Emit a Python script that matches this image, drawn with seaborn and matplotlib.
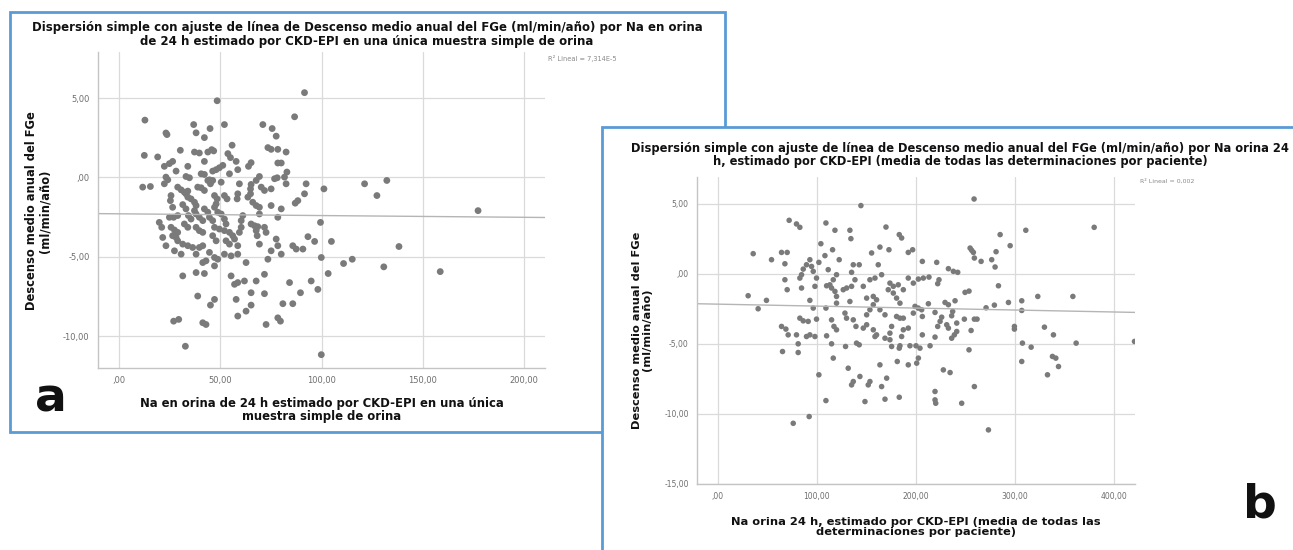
import numpy as np
import pandas as pd
import matplotlib
matplotlib.use('Agg')
import matplotlib.pyplot as plt
from matplotlib.patches import Rectangle
from matplotlib.ticker import FuncFormatter
import seaborn as sns

# ------------------------------------------------------------
# Data
# ------------------------------------------------------------
# Panel a: Na urine 24 h (single spot sample) vs annual eGFR decline
na_a = [91.6, 48.4, 12.7, 86.7, 36.8, 52.0, 44.9, 71.0, 75.6, 23.1, 23.6, 38.0, 42.1, 77.6, 55.8,
        30.2, 37.2, 39.6, 43.8, 45.7, 46.7, 73.5, 75.1, 78.4, 82.5, 12.4, 19.0, 53.7, 55.0, 26.4,
        24.8, 22.3, 42.1, 57.8, 65.2, 63.9, 78.4, 80.1, 33.9, 51.2, 49.5, 47.9, 46.2, 28.1, 42.1,
        54.5, 58.6, 82.9, 81.7, 23.1, 24.0, 22.3, 33.0, 34.7, 40.5, 44.6, 46.2, 69.3, 67.7, 76.8,
        78.1, 92.4, 101.2, 11.6, 15.4, 28.9, 30.6, 32.2, 33.9, 38.8, 40.5, 42.1, 43.8, 45.1, 50.4,
        59.4, 65.2, 64.9, 64.9, 70.2, 71.8, 75.1, 82.5, 91.6, 88.3, 87.0, 25.6, 25.3, 33.0, 33.9,
        35.5, 37.2, 47.1, 48.4, 47.9, 52.0, 53.3, 58.6, 58.3, 63.6, 66.0, 67.7, 69.3, 75.1, 80.1,
        26.4, 31.4, 33.0, 38.0, 37.2, 38.0, 42.1, 43.8, 47.1, 48.7, 50.4, 24.8, 26.9, 28.9, 34.2,
        35.5, 39.6, 41.3, 44.6, 46.2, 52.0, 52.8, 61.1, 60.3, 65.2, 66.9, 68.5, 69.3, 71.8, 78.4,
        19.8, 21.0, 25.6, 27.3, 28.9, 32.2, 33.9, 38.0, 39.6, 41.3, 47.1, 49.5, 52.0, 54.5, 56.1,
        60.3, 59.4, 67.7, 68.2, 72.6, 99.5, 21.5, 23.1, 26.4, 28.1, 28.9, 31.4, 33.9, 36.3, 39.6,
        41.3, 46.2, 47.9, 52.8, 54.5, 57.0, 58.6, 69.3, 77.6, 78.4, 85.8, 87.5, 90.8, 93.3, 96.6,
        27.3, 30.6, 38.0, 44.6, 47.1, 48.7, 52.0, 55.3, 58.6, 75.1, 80.1, 99.9, 42.9, 41.3, 47.1,
        62.7, 73.5, 31.4, 38.0, 42.1, 55.3, 71.8, 57.0, 58.6, 61.9, 67.7, 84.2, 94.9, 65.2, 71.8,
        89.6, 98.2, 38.8, 47.1, 45.1, 57.8, 65.2, 62.7, 80.9, 85.8, 58.6, 78.4, 79.7, 26.9, 29.4,
        41.3, 42.9, 72.6, 32.7, 99.9, 121.3, 132.3, 127.4, 177.4, 104.9, 138.3, 110.9, 115.2, 103.3,
        130.8, 158.7]
fge_a = [5.34, 4.83, 3.61, 3.82, 3.33, 3.33, 3.08, 3.33, 3.08, 2.80, 2.70, 2.81, 2.51, 2.60, 2.03,
         1.71, 1.60, 1.54, 1.60, 1.75, 1.67, 1.88, 1.77, 1.77, 1.60, 1.39, 1.29, 1.50, 1.25, 1.01,
         0.87, 0.70, 1.01, 1.01, 0.93, 0.70, 0.91, 0.91, 0.70, 0.76, 0.61, 0.49, 0.40, 0.40, 0.19,
         0.23, 0.49, 0.34, 0.02, 0.02, -0.15, -0.40, 0.06, -0.02, 0.23, -0.15, -0.19, 0.06, -0.19, -0.08,
         -0.02, -0.40, -0.72, -0.61, -0.57, -0.61, -0.78, -0.93, -0.86, -0.61, -0.65, -0.82, -0.19, -0.40, -0.30,
         -0.40, -0.44, -0.72, -1.03, -0.61, -0.82, -0.72, -0.40, -1.03, -1.46, -1.62, -1.14, -1.46, -1.03, -1.24,
         -1.35, -1.56, -1.14, -1.35, -1.67, -1.14, -1.35, -1.03, -1.35, -1.24, -1.56, -1.77, -1.88, -1.77, -1.98,
         -1.88, -1.71, -1.98, -1.77, -2.09, -2.30, -1.98, -2.19, -1.88, -2.19, -2.30, -2.51, -2.51, -2.40, -2.40,
         -2.62, -2.51, -2.72, -2.51, -2.72, -2.62, -2.93, -2.40, -2.72, -2.93, -3.04, -3.10, -2.30, -3.14, -2.51,
         -2.83, -3.14, -3.14, -3.31, -3.46, -2.93, -3.14, -3.14, -3.35, -3.46, -3.14, -3.25, -3.35, -3.46, -3.67,
         -3.14, -3.46, -3.35, -3.67, -3.46, -2.83, -3.78, -4.30, -3.67, -3.78, -3.99, -4.20, -4.30, -4.41, -4.41,
         -4.30, -3.67, -3.99, -3.99, -4.20, -3.88, -4.30, -4.20, -3.88, -4.30, -4.30, -4.51, -4.51, -3.73, -4.03,
         -4.62, -4.83, -4.83, -4.72, -5.04, -5.15, -4.83, -4.94, -4.83, -4.62, -4.83, -5.04, -5.25, -5.36, -5.57,
         -5.36, -5.15, -6.20, -5.99, -6.05, -6.20, -6.10, -6.73, -6.62, -6.52, -6.52, -6.62, -6.52, -7.26, -7.32,
         -7.26, -7.05, -7.47, -7.68, -8.04, -7.68, -8.04, -8.42, -7.95, -7.95, -8.73, -8.84, -9.05, -9.05, -8.94,
         -9.15, -9.26, -9.26, -10.63, -11.16, -0.40, -0.19, -1.14, -2.09, -4.03, -4.35, -5.42, -5.15, -6.05,
         -5.63, -5.93]

# Panel b: Na urine 24 h (mean of all determinations) vs annual eGFR decline
na_b = [144.4, 72.0, 79.4, 82.8, 109.1, 118.2, 133.3, 134.3, 169.7, 183.1, 185.5, 163.6, 172.7, 192.2, 196.6,
        104.0, 115.8, 108.1, 155.2, 35.7, 54.2, 64.3, 70.0, 67.7, 122.5, 92.9, 89.5, 94.6, 102.0, 136.7,
        142.7, 161.9, 86.2, 84.5, 82.8, 96.3, 99.6, 111.4, 119.8, 116.5, 113.1, 135.0, 138.4, 153.5, 158.6,
        165.3, 173.7, 177.1, 182.1, 187.2, 192.2, 197.3, 67.7, 70.0, 84.5, 98.0, 109.8, 114.8, 118.2, 119.8,
        126.6, 130.0, 135.0, 146.8, 150.2, 156.9, 160.2, 172.0, 177.1, 180.4, 183.8, 133.3, 119.8, 30.6, 49.1,
        40.7, 92.9, 96.3, 109.1, 156.9, 153.5, 150.2, 163.6, 168.7, 180.4, 183.8, 187.2, 197.3, 202.3, 82.8,
        86.2, 91.2, 99.6, 114.8, 117.2, 119.8, 128.3, 129.9, 136.7, 139.4, 146.8, 150.2, 160.2, 158.6, 175.4,
        173.7, 173.7, 175.4, 187.2, 185.5, 192.2, 64.3, 68.7, 71.0, 79.4, 89.5, 92.9, 98.0, 109.8, 140.0,
        142.7, 156.9, 168.7, 114.8, 128.9, 81.1, 81.1, 65.3, 183.8, 183.1, 193.9, 200.0, 116.5, 131.6, 163.6,
        181.1, 192.2, 102.0, 136.7, 135.0, 143.4, 153.5, 151.8, 165.3, 170.4, 109.1, 148.5, 168.7, 183.1, 92.2,
        76.1, 258.6, 379.8, 310.8, 284.9, 295.0, 254.6, 256.2, 257.9, 280.8, 258.9, 265.7, 276.4, 279.8, 206.4,
        220.9, 232.7, 237.7, 242.1, 202.4, 207.4, 213.1, 223.2, 221.9, 283.2, 249.5, 253.5, 322.9, 358.3, 306.7,
        293.3, 279.1, 270.7, 229.3, 232.7, 239.4, 212.5, 199.0, 205.7, 206.4, 219.2, 237.0, 236.0, 306.7, 225.9,
        224.3, 221.9, 231.0, 232.7, 241.1, 241.1, 238.7, 236.0, 248.8, 258.9, 261.6, 255.6, 299.3, 299.3, 329.6,
        338.7, 206.4, 219.2, 214.2, 204.0, 202.4, 200.7, 253.5, 307.4, 316.2, 361.6, 420.5, 306.7, 337.7, 341.1,
        343.8, 332.7, 227.6, 234.4, 258.9, 219.2, 219.2, 219.9, 246.1, 273.1]
fge_b = [4.86, 3.81, 3.55, 3.31, 3.62, 3.10, 3.10, 2.50, 3.33, 2.79, 2.55, 1.90, 1.71, 1.52, 1.71,
         2.14, 1.71, 1.29, 1.48, 1.43, 1.00, 1.52, 1.52, 0.71, 1.00, 1.00, 0.64, 0.52, 0.81, 0.64,
         0.64, 0.64, 0.33, -0.07, -0.31, 0.17, -0.31, 0.29, -0.07, -0.43, -0.79, 0.10, -0.43, -0.43, -0.31,
         -0.07, -0.67, -0.90, -0.79, -1.14, -0.31, -0.67, -0.43, -1.14, -1.02, -0.90, -0.86, -1.02, -1.26, -1.62,
         -1.14, -1.02, -0.90, -0.90, -1.74, -1.62, -1.86, -1.14, -1.38, -1.74, -2.10, -1.98, -2.10, -1.57, -1.90,
         -2.50, -1.90, -2.45, -2.45, -2.21, -2.57, -2.93, -2.57, -2.93, -3.05, -3.17, -3.17, -2.81, -2.45, -3.17,
         -3.36, -3.40, -3.24, -3.29, -3.76, -4.00, -2.81, -3.17, -3.29, -3.76, -3.88, -3.64, -4.36, -4.48, -3.76,
         -4.24, -4.71, -5.19, -4.00, -4.48, -3.88, -3.76, -3.95, -4.36, -4.36, -4.48, -4.36, -4.48, -4.43, -4.95,
         -5.07, -4.00, -4.60, -5.00, -5.19, -5.00, -5.62, -5.55, -5.14, -5.31, -5.14, -5.14, -6.02, -6.74, -6.50,
         -6.26, -6.50, -7.21, -7.69, -7.93, -7.33, -7.69, -7.93, -8.05, -7.45, -9.05, -9.12, -8.95, -8.81, -10.19,
         -10.67, 5.33, 3.31, 3.10, 2.79, 2.00, 1.83, 1.67, 1.52, 1.57, 1.12, 0.88, 1.00, 0.48, 0.88,
         0.81, 0.36, 0.17, 0.10, -0.38, -0.31, -0.24, -0.43, -0.71, -0.86, -1.33, -1.24, -1.62, -1.62, -1.93,
         -2.05, -2.24, -2.43, -2.05, -2.21, -1.93, -2.14, -2.33, -2.57, -3.05, -2.76, -2.69, -3.00, -2.62, -3.10,
         -3.40, -3.76, -3.64, -3.88, -3.52, -4.12, -4.36, -4.60, -3.24, -3.24, -3.24, -4.05, -3.76, -3.95, -3.81,
         -4.36, -4.36, -4.52, -5.14, -5.31, -6.02, -6.38, -5.43, -4.95, -5.24, -4.95, -4.83, -6.26, -5.90, -6.02,
         -6.62, -7.21, -6.86, -7.05, -8.05, -8.40, -9.00, -9.24, -9.24, -11.14]

# SPSS linear fit lines as drawn (intercept, slope)
fit_a = (-2.29, -0.0011)
fit_b = (-2.17, -0.0014)

ticks_x_a = [0, 50, 100, 150, 200]
ticks_y_a = [5, 0, -5, -10]
ticks_x_b = [0, 100, 200, 300, 400]
ticks_y_b = [5, 0, -5, -10, -15]

df_a = pd.DataFrame({'na': na_a, 'fge': fge_a})
df_b = pd.DataFrame({'na': na_b, 'fge': fge_b})

# ------------------------------------------------------------
# Figure layout (pixel based, 1293 x 550)
# ------------------------------------------------------------
sns.set_style('white')
plt.rcParams['font.family'] = ['DejaVu Sans']

W, H = 1293, 550
fig = plt.figure(figsize=(W / 100, H / 100), dpi=100)
fig.patch.set_facecolor('white')


def fx(px):
    return px / W


def fy(py):
    return 1 - py / H


def rect(x0, y0, x1, y1):
    return [fx(x0), fy(y1), (x1 - x0) / W, (y1 - y0) / H]


BLUE = '#5b9bd5'
DOT = '#7a7a7a'
TICK = '#6e6e6e'
INK = '#111111'


def spss_fmt(v, pos):
    s = f'{v:.2f}'.replace('.', ',')
    if s in ('0,00', '-0,00'):
        return ',00'
    return s


def style_axes(ax, xlim, ylim, xticks, yticks):
    ax.set_xlim(xlim)
    ax.set_ylim(ylim)
    ax.set_xticks(xticks)
    ax.set_yticks(yticks)
    ax.xaxis.set_major_formatter(FuncFormatter(spss_fmt))
    ax.yaxis.set_major_formatter(FuncFormatter(spss_fmt))
    ax.grid(True, color='#dadada', lw=0.9)
    ax.set_axisbelow(True)
    for s in ['top', 'right']:
        ax.spines[s].set_visible(False)
    for s in ['left', 'bottom']:
        ax.spines[s].set_color('#c4c4c4')
        ax.spines[s].set_linewidth(1.0)
    ax.tick_params(length=3, width=0.8, color='#c4c4c4', labelsize=6,
                   labelcolor=TICK, pad=3)
    ax.set_xlabel('')
    ax.set_ylabel('')


def fit_line(ax, fit, xlim):
    xs = np.array(xlim)
    sns.lineplot(x=xs, y=fit[0] + fit[1] * xs, ax=ax, color='#b5b5b5', lw=1.0)


# --- Panel a frame ---
fig.patches.append(Rectangle((fx(10), fy(432)), (725 - 10) / W, (432 - 12) / H,
                             transform=fig.transFigure, facecolor='white',
                             edgecolor=BLUE, lw=2, zorder=0))

ax_a = fig.add_axes(rect(98, 52, 545, 368))
ax_a.set_zorder(1)
xlim_a = (-10.5, 210.5)
ylim_a = (-12.0, 7.9)
sns.scatterplot(data=df_a, x='na', y='fge', ax=ax_a, color=DOT, s=24,
                edgecolor='none', linewidth=0)
fit_line(ax_a, fit_a, xlim_a)
style_axes(ax_a, xlim_a, ylim_a, ticks_x_a, ticks_y_a)

fig.text(fx(367), fy(34), 'Dispersión simple con ajuste de línea de Descenso medio anual del FGe (ml/min/año) por Na en orina\n'
         'de 24 h estimado por CKD-EPI en una única muestra simple de orina',
         ha='center', va='center', fontsize=8.5, fontweight='bold', color=INK,
         linespacing=1.1, zorder=1)
fig.text(fx(38), fy(211), 'Descenso medio anual del FGe\n(ml/min/año)', rotation=90,
         ha='center', va='center', fontsize=8.3, fontweight='bold', color=INK,
         linespacing=1.05, multialignment='center', zorder=1)
fig.text(fx(322), fy(410), 'Na en orina de 24 h estimado por CKD-EPI en una única\nmuestra simple de orina',
         ha='center', va='center', fontsize=8.4, fontweight='bold', color=INK,
         linespacing=1.05, multialignment='center', zorder=1)
fig.text(fx(548), fy(58), 'R² Lineal = 7,314E-5', ha='left', va='center',
         fontsize=4.8, color='#8a8a8a', zorder=1)
fig.text(fx(51), fy(399), 'a', ha='center', va='center', fontsize=34,
         fontweight='bold', color=INK, zorder=1)

# --- Panel b frame (overlaps panel a) ---
fig.patches.append(Rectangle((fx(602), fy(560)), (1300 - 602) / W, (560 - 127) / H,
                             transform=fig.transFigure, facecolor='white',
                             edgecolor=BLUE, lw=2, zorder=2))

ax_b = fig.add_axes(rect(697, 177, 1135, 484))
ax_b.set_zorder(3)
xlim_b = (-21, 421)
ylim_b = (-15.0, 6.9)
sns.scatterplot(data=df_b, x='na', y='fge', ax=ax_b, color=DOT, s=16,
                edgecolor='none', linewidth=0)
fit_line(ax_b, fit_b, xlim_b)
style_axes(ax_b, xlim_b, ylim_b, ticks_x_b, ticks_y_b)
ax_b.tick_params(labelsize=5.5)

fig.text(fx(960), fy(155), 'Dispersión simple con ajuste de línea de Descenso medio anual del FGe (ml/min/año) por Na orina 24\n'
         'h, estimado por CKD-EPI (media de todas las determinaciones por paciente)',
         ha='center', va='center', fontsize=8.3, fontweight='bold', color=INK,
         linespacing=1.0, zorder=4)
fig.text(fx(642), fy(330), 'Descenso medio anual del FGe\n(ml/min/año)', rotation=90,
         ha='center', va='center', fontsize=8.2, fontweight='bold', color=INK,
         linespacing=1.0, multialignment='center', zorder=4)
fig.text(fx(916), fy(527), 'Na orina 24 h, estimado por CKD-EPI (media de todas las\ndeterminaciones por paciente)',
         ha='center', va='center', fontsize=8.25, fontweight='bold', color=INK,
         linespacing=1.0, multialignment='center', zorder=4)
fig.text(fx(1140), fy(181), 'R² Lineal = 0,002', ha='left', va='center',
         fontsize=4.5, color='#8a8a8a', zorder=4)
fig.text(fx(1260), fy(505), 'b', ha='center', va='center', fontsize=34,
         fontweight='bold', color=INK, zorder=4)

plt.savefig('out.png', dpi=100, facecolor='white')
plt.close()
